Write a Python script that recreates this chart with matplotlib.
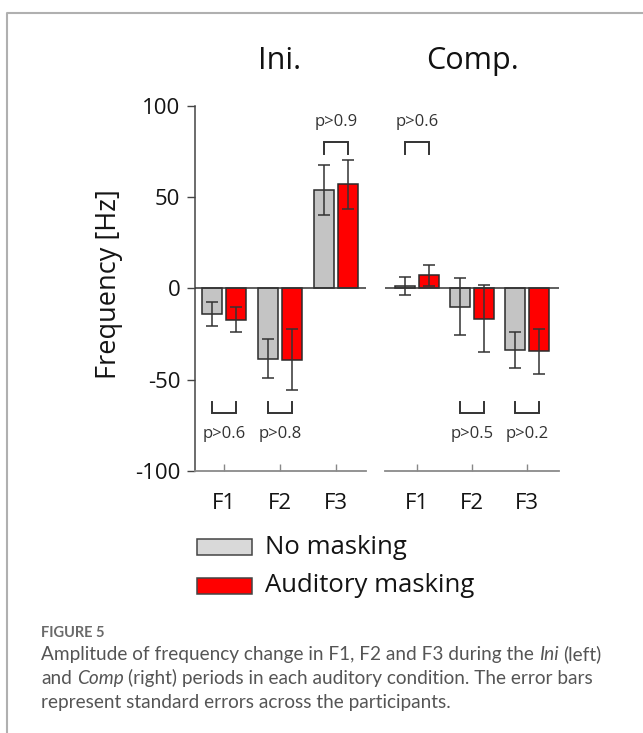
import matplotlib
matplotlib.use("Agg")
import matplotlib.pyplot as plt
import numpy as np
from matplotlib.patches import Rectangle
from matplotlib.lines import Line2D

# ---------------- data ----------------
formants = ["F1", "F2", "F3"]
ini_none = [-14, -38.5, 54]
ini_none_se = [6.7, 10.7, 13.5]
ini_mask = [-17, -39, 57]
ini_mask_se = [7, 16.7, 13.5]
comp_none = [1.5, -10, -33.8]
comp_none_se = [4.8, 15.6, 9.7]
comp_mask = [7.3, -16.5, -34.5]
comp_mask_se = [5.8, 18.5, 12.3]
yticks = [-100, -50, 0, 50, 100]
ini_pvals = ["p>0.6", "p>0.8", "p>0.9"]
comp_pvals = ["p>0.6", "p>0.5", "p>0.2"]
ini_sides = ["below", "below", "above"]
comp_sides = ["above", "below", "below"]
legend_labels = ["No masking", "Auditory masking"]
panel_titles = ["Ini.", "Comp."]

GRAY = "#c4c4c4"
RED = "#ff0000"
EDGE = "#2b2b2b"
TXT = "#141414"
CHART_FONT = ["Open Sans", "DejaVu Sans"]
CAP_FONT = ["Lato", "DejaVu Sans"]

W, H = 643, 733
fig = plt.figure(figsize=(W / 100, H / 100), dpi=100)


def fx(px):
    return px / W


def fy(py):
    return 1 - py / H


def panel(ax, none, none_se, mask, mask_se, pvals, sides, xlim, left):
    x = np.arange(len(formants))
    off, bw = 0.215, 0.36
    ax.bar(x - off, none, bw, color=GRAY, edgecolor=EDGE, linewidth=1.1, zorder=2)
    ax.bar(x + off, mask, bw, color=RED, edgecolor=EDGE, linewidth=1.1, zorder=2)
    ekw = dict(fmt="none", ecolor="#333333", elinewidth=1.1, capsize=4, capthick=1.1, zorder=3)
    ax.errorbar(x - off, none, yerr=none_se, **ekw)
    ax.errorbar(x + off, mask, yerr=mask_se, **ekw)
    ax.axhline(0, color="#333333", linewidth=1.1, zorder=4)
    for i, (p, s) in enumerate(zip(pvals, sides)):
        x0, x1 = i - off, i + off
        if s == "above":
            yb, yl, yt = 80, 73.5, 91
        else:
            yb, yl, yt = -68, -62, -79.5
        ax.plot([x0, x0, x1, x1], [yl, yb, yb, yl], color="#333333", lw=1.4,
                solid_joinstyle="miter", zorder=4)
        ax.text(i, yt, p, ha="center", va="center", fontsize=12,
                family=CHART_FONT, color="#333333")
    ax.set_xlim(*xlim)
    ax.set_ylim(-100, 100)
    ax.set_xticks(x)
    ax.set_xticklabels(formants, family=CHART_FONT, fontsize=16)
    ax.tick_params(axis="x", direction="in", length=5, width=1, color="#888888",
                   pad=15.5, labelcolor=TXT)
    for sp in ["top", "right"]:
        ax.spines[sp].set_visible(False)
    ax.spines["bottom"].set_color("#8a8a8a")
    ax.spines["bottom"].set_linewidth(1.3)
    if left:
        ax.spines["left"].set_color("#444444")
        ax.spines["left"].set_linewidth(1.1)
        ax.set_yticks(yticks)
        ax.set_yticklabels([str(v) for v in yticks], family=CHART_FONT, fontsize=16)
        ax.tick_params(axis="y", direction="out", length=5.5, width=1, color="#444444",
                       pad=5, labelcolor=TXT)
    else:
        ax.spines["left"].set_visible(False)
        ax.set_yticks([])
    ax.set_facecolor("none")


axL = fig.add_axes([fx(195), fy(471), fx(366 - 195), (471 - 106) / H])
axR = fig.add_axes([fx(385), fy(471), fx(559 - 385), (471 - 106) / H])
panel(axL, ini_none, ini_none_se, ini_mask, ini_mask_se, ini_pvals, ini_sides,
      (-0.518, 2.536), True)
panel(axR, comp_none, comp_none_se, comp_mask, comp_mask_se, comp_pvals, comp_sides,
      (-0.582, 2.58), False)

fig.text(fx(109), fy(284), "Frequency [Hz]", rotation=90, ha="center", va="center",
         fontsize=19.5, family=CHART_FONT, color=TXT)
fig.text(fx(280), fy(61), panel_titles[0], ha="center", va="center", fontsize=22,
         family=CHART_FONT, color="#111111")
fig.text(fx(472), fy(61), panel_titles[1], ha="center", va="center", fontsize=22,
         family=CHART_FONT, color="#111111")

# legend
for k, (lab, col) in enumerate(zip(legend_labels, ["#d9d9d9", RED])):
    yc = 547 + 39 * k
    fig.add_artist(Rectangle((fx(197), fy(yc + 8)), fx(55), 16 / H, transform=fig.transFigure,
                             facecolor=col, edgecolor="#444444", linewidth=1.1))
    fig.text(fx(265), fy(yc), lab, ha="left", va="center", fontsize=18.5,
             family=CHART_FONT, color=TXT)

# frame
fig.add_artist(Line2D([fx(6.5), fx(6.5), 1.0], [0.0, fy(12.5), fy(12.5)],
                      transform=fig.transFigure, color="#b0b0b0", lw=1.5))

# caption
fig.text(fx(41), fy(637), "FIGURE 5", ha="left", va="baseline", fontsize=10.5,
         family=CAP_FONT, weight="bold", color="#6a6a6a")

renderer = fig.canvas.get_renderer()


def measure(s, **kw):
    t = fig.text(0, 0, s, **kw)
    w = t.get_window_extent(renderer).width
    t.remove()
    return w


cap_kw = dict(fontsize=13.7, family=CAP_FONT, color="#555555")
space_w = measure("x x", **cap_kw) - measure("xx", **cap_kw)


def rich_line(xpx, ybase, segments):
    x = xpx
    for s, italic in segments:
        kw = dict(cap_kw)
        if italic:
            kw["style"] = "italic"
        lead = len(s) - len(s.lstrip(" "))
        x += lead * space_w
        core = s.strip(" ")
        t = fig.text(fx(x), fy(ybase), core, ha="left", va="baseline", **kw)
        x += t.get_window_extent(renderer).width
        trail = len(s) - len(s.rstrip(" "))
        x += trail * space_w


rich_line(41, 660, [("Amplitude of frequency change in F1, F2 and F3 during the ", False),
                    ("Ini", True), (" (left)", False)])
rich_line(41, 684, [("and ", False), ("Comp", True),
                    (" (right) periods in each auditory condition. The error bars", False)])
rich_line(41, 708, [("represent standard errors across the participants.", False)])

fig.savefig("out.png", dpi=100)
